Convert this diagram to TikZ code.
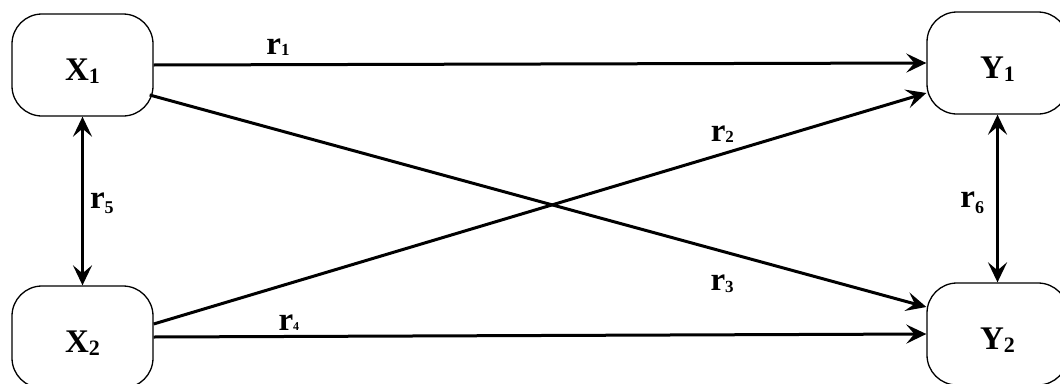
\documentclass[tikz,border=0pt]{standalone}
\usepackage{fontspec}
\setmainfont{Liberation Serif}
\usetikzlibrary{arrows.meta}
\newcommand{\ssub}[3]{\raisebox{-#2}{\fontsize{#1}{#1}\selectfont #3}}
\tikzset{
  var/.style={draw, line width=1.3pt, rounded corners=30pt, minimum width=141pt, minimum height=102pt, inner sep=0pt, text height=36pt, text depth=6pt, font=\bfseries\fontsize{33}{36}\selectfont},
  lbl/.style={font=\bfseries\fontsize{33}{36}\selectfont, inner sep=0pt, anchor=base},
  eff/.style={line width=3pt, -{Stealth[length=20pt,width=19pt,inset=8pt]}},
  cov/.style={line width=3pt, {Stealth[length=20pt,width=19pt,inset=8pt]}-{Stealth[length=20pt,width=19pt,inset=8pt]}}
}
\begin{document}
\begin{tikzpicture}[x=1pt, y=-1pt]
\useasboundingbox (0,0) rectangle (1060,383);
\node[var] (x1) at (82.5,65){X\ssub{22}{3pt}{1}};
\node[var] (y1) at (997.5,63){Y\ssub{22}{3pt}{1}};
\node[var] (x2) at (82.5,337){X\ssub{22}{3pt}{2}};
\node[var] (y2) at (997.5,334){Y\ssub{22}{3pt}{2}};
\draw[eff](x1.east) -- node[lbl, pos=0.161, yshift=10pt]{r\ssub{17}{1pt}{1}} (y1.west);
\draw[eff]([yshift=13pt]x2.east) -- node[lbl, pos=0.736, yshift=12pt]{r\ssub{17}{1pt}{2}} ([yshift=-30pt]y1.west);
\draw[eff]([shift={(-4pt,-30pt)}]x1.east) -- node[lbl, pos=0.737, yshift=-39pt]{r\ssub{17}{2pt}{3}} ([yshift=27pt]y2.west);
\draw[eff](x2.east) -- node[lbl, pos=0.175, yshift=6pt]{r\ssub{12}{0pt}{4}} (y2.west);
\draw[cov](x1.south) -- node[lbl, anchor=base west, xshift=6pt, yshift=-7pt]{r\ssub{18}{5pt}{5}} (x2.north);
\draw[cov](y1.south) -- node[lbl, anchor=base east, xshift=-12pt, yshift=-9pt]{r\ssub{18}{6pt}{6}} (y2.north);
\end{tikzpicture}
\end{document}
